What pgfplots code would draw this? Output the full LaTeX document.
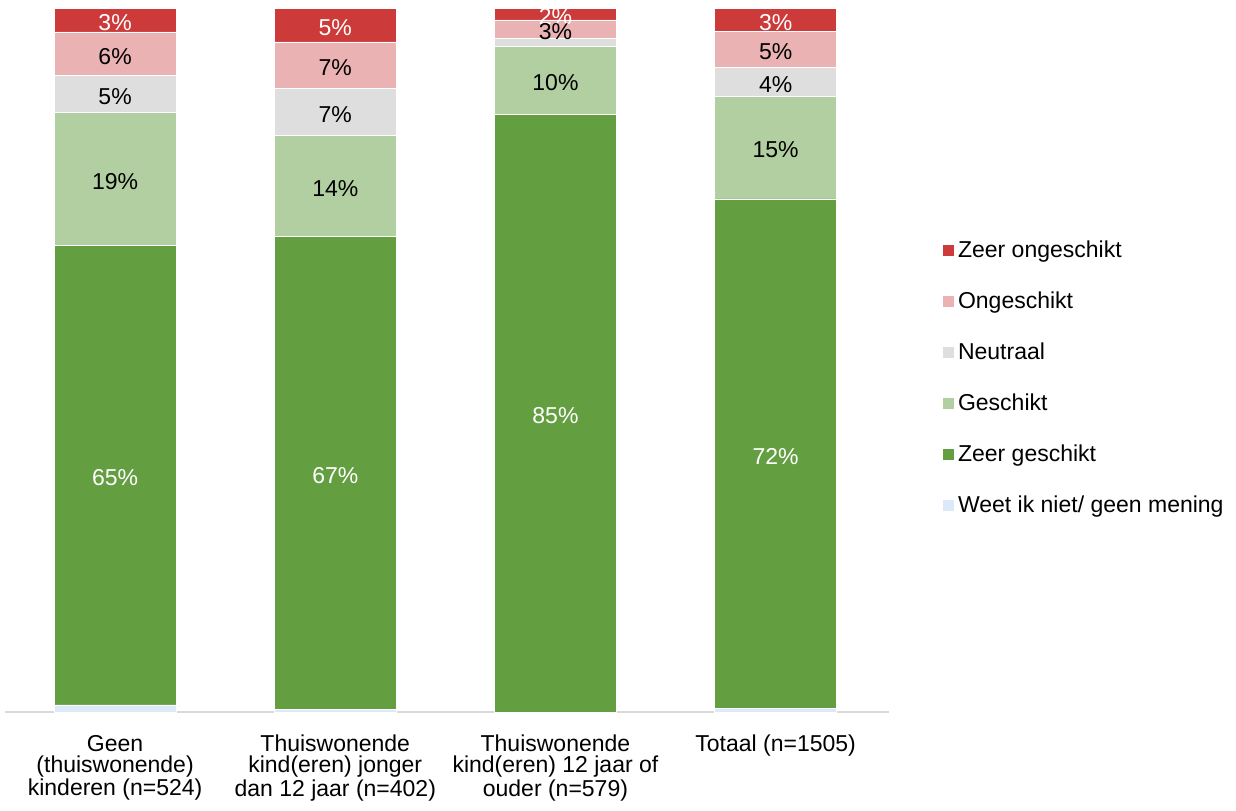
\documentclass[border=0pt]{standalone}
\usepackage{pgfplots}
\pgfplotsset{compat=1.18}
\usepackage{fontspec}
\setmainfont{Liberation Sans}

\definecolor{zred}{RGB}{204,58,58}
\definecolor{opink}{RGB}{234,178,178}
\definecolor{ngrey}{RGB}{222,222,222}
\definecolor{glight}{RGB}{178,207,161}
\definecolor{zgreen}{RGB}{99,159,64}
\definecolor{wblue}{RGB}{219,233,248}
\definecolor{axgray}{RGB}{217,217,217}

\newcommand{\chartfont}{\fontsize{11.5}{10.5}\selectfont}

\begin{document}
\begin{tikzpicture}
\begin{axis}[
    name=ax,
    scale only axis,
    width=442pt, height=356pt,
    ybar stacked,
    bar width=61pt,
    xmin=-0.5, xmax=3.515,
    ymin=0, ymax=101.14,
    axis y line=none,
    axis x line=bottom,
    x axis line style={-, draw=axgray, line width=1pt},
    major tick length=0pt,
    xtick={0,1,2,3},
    xticklabels={
        {Geen\\(thuiswonende)\\kinderen (n=524)},
        {Thuiswonende\\kind(eren) jonger\\dan 12 jaar (n=402)},
        {Thuiswonende\\kind(eren) 12 jaar of\\ouder (n=579)},
        {Totaal (n=1505)}},
    xticklabel style={align=center, font=\chartfont, yshift=-8pt},
    point meta=explicit symbolic,
    every node near coord/.append style={font=\chartfont, anchor=center, yshift=-1.3pt},
    every axis plot/.append style={draw=white, line width=0.3pt},
    reverse legend,
    legend cell align=left,
    legend image code/.code={\fill[#1] (0pt,-2.5pt) rectangle (6pt,3.5pt);},
    legend style={at={(axis description cs:1.06,0.4675)}, anchor=west,
        draw=none, fill=none, inner sep=0pt, row sep=14.7pt,
        /tikz/column sep=1.5pt, font=\chartfont,
        nodes={inner sep=0pt, text height=8.5pt, text depth=2.3pt}},
]
\addplot[fill=wblue] coordinates {(0,1.0) (1,0.4) (2,0) (3,0.5)};
\addlegendentry{Weet ik niet/ geen mening}

\addplot[fill=zgreen, nodes near coords, every node near coord/.append style={text=white}]
    coordinates {(0,65.3) [65\%] (1,67.2) [67\%] (2,84.9) [85\%] (3,72.4) [72\%]};
\addlegendentry{Zeer geschikt}

\addplot[fill=glight, nodes near coords, every node near coord/.append style={text=black}]
    coordinates {(0,18.9) [19\%] (1,14.3) [14\%] (2,9.7) [10\%] (3,14.6) [15\%]};
\addlegendentry{Geschikt}

\addplot[fill=ngrey, nodes near coords, every node near coord/.append style={text=black}]
    coordinates {(0,5.2) [5\%] (1,6.7) [7\%] (2,1.1) [{}] (3,4.1) [4\%]};
\addlegendentry{Neutraal}

\addplot[fill=opink, nodes near coords, every node near coord/.append style={text=black}]
    coordinates {(0,6.2) [6\%] (1,6.6) [7\%] (2,2.6) [3\%] (3,5.1) [5\%]};
\addlegendentry{Ongeschikt}

\addplot[fill=zred, nodes near coords, every node near coord/.append style={text=white}]
    coordinates {(0,3.4) [3\%] (1,4.8) [5\%] (2,1.7) [2\%] (3,3.3) [3\%]};
\addlegendentry{Zeer ongeschikt}
\end{axis}
\pgfresetboundingbox
\path[use as bounding box] ([shift={(-2.5pt,-49pt)}]ax.south west)
    rectangle ([shift={(615.5pt,356pt)}]ax.south west);
\end{tikzpicture}
\end{document}
